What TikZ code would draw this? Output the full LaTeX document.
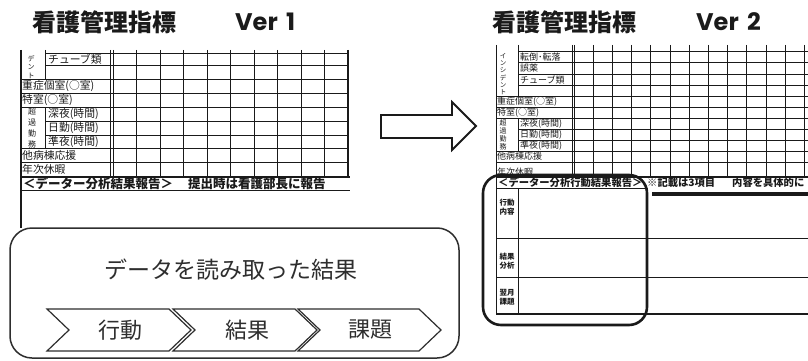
\documentclass[tikz,border=0pt]{standalone}
\usepackage{fontspec}
\setmainfont{Noto Sans CJK JP}
\newfontfamily\jp{Noto Sans CJK JP}
\newfontfamily\pop{Poppins}
\definecolor{ink}{HTML}{1A1A1A}
\definecolor{gr}{HTML}{2E2E2E}
\tikzset{
  tl/.style={line width=0.8pt, draw=ink},
  tb/.style={line width=1.4pt, draw=ink},
  ttl/.style={inner sep=0pt, text=ink, font=\jp\bfseries\fontsize{24}{26}\selectfont},
  ver/.style={inner sep=0pt, anchor=west, text=ink, font=\pop\bfseries\fontsize{24}{26}\selectfont},
  lblA/.style={inner sep=0pt, anchor=west, text=ink, font=\jp\fontsize{10.8}{12}\selectfont},
  lblB/.style={inner sep=0pt, anchor=west, text=ink, font=\jp\fontsize{9}{10}\selectfont},
  vtxt/.style={inner sep=0pt, align=center, text=ink},
  hdrA/.style={inner sep=0pt, anchor=west, text=ink, font=\jp\bfseries\fontsize{12.5}{14}\selectfont},
  hdrB/.style={inner sep=0pt, anchor=west, text=ink, font=\jp\bfseries\fontsize{10.3}{12}\selectfont},
  chev/.style={line width=1.2pt, draw=gr, line join=miter},
  chevtxt/.style={inner sep=0pt, text=gr, font=\jp\fontsize{22}{24}\selectfont},
}
\begin{document}
\begin{tikzpicture}[x=1pt,y=-1pt]
\useasboundingbox (0,0) rectangle (808,361);
\fill[white] (0,0) rectangle (808,361);

% ---------------- Titles ----------------
\node[ttl] (t1) at (104.5,22) {看護管理指標};
\node[ver] (v1) at (235,22) {Ver\hspace{0.35em}1};
\node[ttl] (t2) at (564.5,22) {看護管理指標};
\node[ver] (v2) at (696,22) {Ver\hspace{0.35em}2};

% ---------------- Left table (Ver 1) ----------------
% horizontal lines
\foreach \yy in {53,65,121,135} \draw[tl] (45,\yy) -- (348,\yy);
\foreach \yy in {79,93,107,148,162} \draw[tl] (21,\yy) -- (348,\yy);
\draw[tb] (21,177) -- (350,177);
\draw[tl] (21,190) -- (350,190);
% vertical lines
\draw[tb] (21,50) -- (21,228);
\draw[tl] (45,50) -- (45,79);
\draw[tl] (45,107) -- (45,148);
\draw[tl] (110,50) -- (110,177);
\draw[tl] (113,50) -- (113,177);
\foreach \k in {1,...,9} \draw[tl] ({113+23.5*\k},50) -- ({113+23.5*\k},177);
\draw[tb] (348,50) -- (348,177);
% labels
\node[vtxt, font=\jp\fontsize{7}{8.5}\selectfont] (l-dent) at (31,67) {デ\\ン\\ト};
\node[lblA] (l-tube) at (48,59) {チューブ類};
\node[lblA] (l-jyu) at (22,86) {重症個室(○室)};
\node[lblA] (l-toku) at (22,100) {特室(○室)};
\node[vtxt, font=\jp\fontsize{8}{11}\selectfont] (l-cho) at (32,128) {超\\過\\勤\\務};
\node[lblA] (l-shin) at (48,114) {深夜(時間)};
\node[lblA] (l-nik) at (48,128) {日勤(時間)};
\node[lblA] (l-jun) at (48,141.5) {準夜(時間)};
\node[lblA] (l-ta) at (22,155) {他病棟応援};
\node[lblA] (l-nen) at (22,169.5) {年次休暇};
\node[hdrA] (l-h1) at (23,183.5) {＜データー分析結果報告＞};
\node[hdrA] (l-h2) at (188,183.5) {提出時は看護部長に報告};

% ---------------- Rounded box with chevrons ----------------
\draw[line width=1.5pt, draw=gr, rounded corners=22pt, fill=white] (10,228) rectangle (459,358);
\node[inner sep=0pt, text=gr, font=\jp\fontsize{23}{25}\selectfont] (res) at (231,270) {データを読み取った結果};
\draw[chev] (47,309) -- (169,309) -- (191,330) -- (169,351) -- (47,351) -- (69,330) -- cycle;
\draw[chev] (173,309) -- (295,309) -- (317,330) -- (295,351) -- (173,351) -- (195,330) -- cycle;
\draw[chev] (298,309) -- (419,309) -- (441,330) -- (419,351) -- (298,351) -- (320,330) -- cycle;
\node[chevtxt] (c1) at (120,330) {行動};
\node[chevtxt] (c2) at (247,330) {結果};
\node[chevtxt] (c3) at (370,330) {課題};

% ---------------- Hollow arrow ----------------
\draw[line width=1.8pt, draw=ink, line join=miter] (381,115) -- (452,115) -- (452,102) -- (476,126) -- (452,150) -- (452,138) -- (381,138) -- cycle;

% ---------------- Right table (Ver 2) ----------------
\begin{scope}
\clip (490,40) rectangle (808,361);
\foreach \yy in {51,62.5,74,85.5,129,140} \draw[tl] (518,\yy) -- (808,\yy);
\foreach \yy in {96,107,118,151,162} \draw[tl] (496,\yy) -- (808,\yy);
\draw[tl] (496,45) -- (496,314);
\draw[tl] (518,45) -- (518,96);
\draw[tl] (518,118) -- (518,151);
\draw[tl] (572,45) -- (572,177);
\draw[tl] (574,45) -- (574,177);
\foreach \k in {1,...,12} \draw[tl] ({574+19.2*\k},45) -- ({574+19.2*\k},177);
% labels
\node[vtxt, font=\jp\fontsize{6.5}{7.2}\selectfont] (r-inc) at (503,74) {イ\\ン\\シ\\デ\\ン\\ト};
\node[lblB] (r-ten) at (520,57) {転倒･転落};
\node[lblB] (r-go) at (520,68) {誤薬};
\node[lblB] (r-tube) at (520,80) {チューブ類};
\node[lblB] (r-jyu) at (497,101.5) {重症個室(○室)};
\node[lblB] (r-toku) at (497,112.5) {特室(○室)};
\node[vtxt, font=\jp\fontsize{7}{8}\selectfont] (r-cho) at (503,134.5) {超\\過\\勤\\務};
\node[lblB] (r-shin) at (520,123.5) {深夜(時間)};
\node[lblB] (r-nik) at (520,134.5) {日勤(時間)};
\node[lblB] (r-jun) at (520,145.5) {準夜(時間)};
\node[lblB] (r-ta) at (497,156.5) {他病棟応援};
\node[lblB] (r-nen) at (497,172) {年次休暇};
% header row covers bottom of last row
\fill[white] (496.5,176) rectangle (808,187.5);
\draw[tb] (496,177) -- (808,177);
\draw[tl] (496,188) -- (648,188);
\node[hdrB] (r-h1) at (498,182.5) {＜データー分析行動結果報告＞};
\node[hdrB] (r-h2) at (647,182.5) {※記載は3項目};
\node[hdrB] (r-h3) at (732,182.5) {内容を具体的に};
\fill[ink] (652,192) rectangle (808,196);
% report section
\draw[tl] (518,188) -- (518,314);
\draw[tl] (496,238) -- (808,238);
\draw[tl] (496,277) -- (808,277);
\draw[tb] (496,314) -- (808,314);
\node[vtxt, font=\jp\bfseries\fontsize{7.5}{9}\selectfont] (r-k) at (507,207.5) {行動\\内容};
\node[vtxt, font=\jp\bfseries\fontsize{7.5}{9}\selectfont] (r-b) at (507,261) {結果\\分析};
\node[vtxt, font=\jp\bfseries\fontsize{7.5}{9}\selectfont] (r-y) at (507,297.5) {翌月\\課題};
\end{scope}
% highlight rounded rectangle
\draw[line width=2.6pt, draw=ink, rounded corners=18pt] (483,175) rectangle (647,325);
\end{tikzpicture}
\end{document}
